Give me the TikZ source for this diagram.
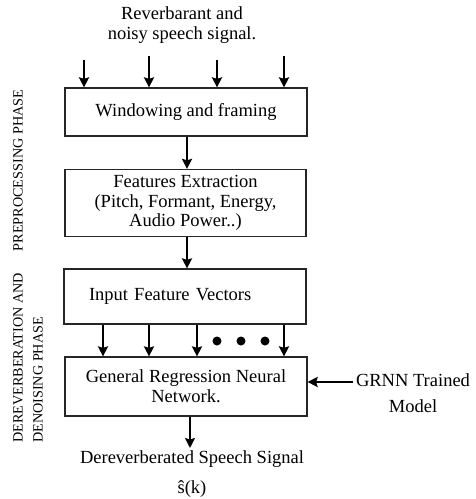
\documentclass[tikz,border=0pt]{standalone}
\usepackage{fontspec}
\setmainfont{Liberation Serif}
\usetikzlibrary{arrows.meta}

\begin{document}
\begin{tikzpicture}[x=1pt,y=-1pt,
  box/.style={draw=black!85, line width=1.2pt, inner sep=0pt, align=center,
    font=\fontsize{18.5}{19.8}\selectfont},
  txt/.style={inner sep=0pt, align=center, font=\fontsize{18.5}{19.8}\selectfont},
  side/.style={inner sep=0pt, rotate=90, font=\fontsize{14.2}{20}\selectfont},
  arr/.style={line width=2.2pt, -{Stealth[length=10pt,width=10pt,inset=1.5pt]}},
  dot/.style={circle, fill=black, inner sep=0pt, minimum size=9pt}
]
\useasboundingbox (0,0) rectangle (476,499);

% title text
\node[txt] (title) at (182,25) {Reverbarant and\\noisy speech signal.};

% processing blocks
\node[box, minimum width=242, minimum height=48] (b1) at (186,112) {Windowing and framing};
\node[box, minimum width=241, minimum height=67] (b2) at (185.5,203)
  {Features Extraction\\(Pitch, Formant, Energy,\\Audio Power..)};
\node[box, minimum height=55, text width=192, inner xsep=25pt, align=left] (b3) at (185,296.5)
  {Input Feature Vectors};
\node[box, minimum width=242, minimum height=59] (b4) at (186,386.5)
  {General Regression Neural\\Network.};

% input signal arrows
\coordinate (i1) at (84,60);
\coordinate (i2) at (149,56);
\coordinate (i3) at (217,60);
\coordinate (i4) at (284,56);
\foreach \c in {i1,i2,i3,i4} \draw[arr] (\c) -- (\c |- b1.north);

% pipeline arrows
\draw[arr] (b1.south -| 187,0) -- (b2.north -| 187,0);
\draw[arr] (b2.south -| 187,0) -- (b3.north -| 187,0);

% feature vector arrows
\foreach \x in {103,149,197,284} \draw[arr] (b3.south -| \x,0) -- (b4.north -| \x,0);
\node[dot] (d1) at (217,341) {};
\node[dot] (d2) at (241,341) {};
\node[dot] (d3) at (265,341) {};

% trained model input
\node[txt, font=\fontsize{18.5}{26}\selectfont] (gm) at (413,393) {GRNN Trained\\Model};
\coordinate (gmin) at (353,382);
\draw[arr] (gmin) -- (gmin -| b4.east);

% output
\coordinate (out) at (190,448);
\draw[arr] (b4.south -| out) -- (out);
\node[txt] (outl) at (192,459) {Dereverberated Speech Signal};
\node[txt] (shat) at (192,489) {\^{s}(k)};

% phase labels
\node[side] (pp) at (18,170.5) {PREPROCESSING PHASE};
\node[side, align=left, anchor=west] (dp) at (28,443) {DEREVERBERATION AND\\DENOISING PHASE};
\end{tikzpicture}
\end{document}
